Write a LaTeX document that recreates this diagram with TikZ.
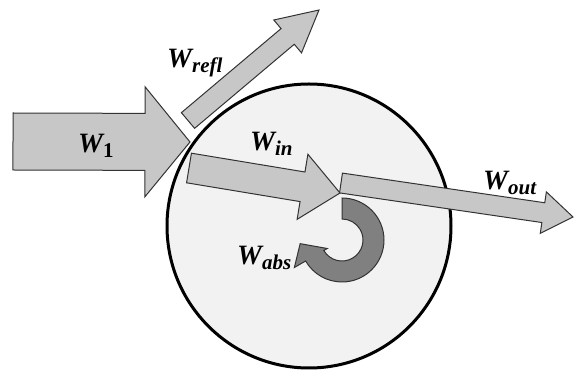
\documentclass[tikz,border=0pt]{standalone}
\usepackage{fontspec}
\setmainfont{Liberation Serif}
\usetikzlibrary{calc}
\colorlet{diskfill}{black!5}
\colorlet{arrowfill}{black!22}
\colorlet{absfill}{black!50}
\tikzstyle{block}=[draw=black!80,line width=1pt,fill=arrowfill,line join=miter]
\tikzstyle{absblock}=[block,fill=absfill]

% straight block arrow: tail, tip, half shaft width, half head width, head length
\newcommand\fatarrow[5]{%
  \coordinate (hb) at ($(#2)!#5pt!(#1)$);
  \filldraw[block] ($(#1)!#3pt!90:(#2)$) -- ($(hb)!#3pt!90:(#2)$)
    -- ($(hb)!#4pt!90:(#2)$) -- (#2) -- ($(hb)!#4pt!-90:(#2)$)
    -- ($(hb)!#3pt!-90:(#2)$) -- ($(#1)!#3pt!-90:(#2)$) -- cycle;
}
\newcommand\lowsub[1]{\raisebox{-5pt}{\fontsize{21}{22}\selectfont #1}}

\begin{document}
\begin{tikzpicture}[x=1pt,y=-1pt,
    lbl/.style={inner sep=0pt,anchor=base west,
      font=\fontsize{28}{30}\selectfont\bfseries\itshape},
  ]
  \useasboundingbox (0,0) rectangle (574,371);

  \def\R{142}   % disk radius
  \def\ri{21}   % inner radius of the absorbed arrow
  \def\ro{42}   % outer radius of the absorbed arrow

  % DISK
  \coordinate (disk) at (309,226);
  \filldraw[fill=diskfill,draw=black,line width=3pt] (disk) circle (\R);

  % ARROWS
  \coordinate (t1) at (13,141.5);   \coordinate (p1) at (190,142);
  \coordinate (tr) at (188,120.5);  \coordinate (pr) at (319,10);
  \coordinate (ti) at (189,168);    \coordinate (pi) at (340,193);
  \coordinate (to) at (341,183);    \coordinate (po) at (573,217);
  \fatarrow{t1}{p1}{28.5}{55}{45}
  \fatarrow{tr}{pr}{10.25}{21.5}{41}
  \fatarrow{ti}{pi}{15}{33}{38}
  \fatarrow{to}{po}{10}{21}{30}

  % ABSORBED
  \coordinate (abs) at (342,240);
  \filldraw[absblock] ($(abs)+(-90:\ri)$) -- ($(abs)+(-90:\ro)$)
    arc[start angle=-90,end angle=150,radius=\ro]
    -- ($(abs)+(150:55)$) -- ($(abs)+(175:42)$) -- ($(abs)+(150:17)$)
    -- ($(abs)+(150:\ri)$) arc[start angle=150,end angle=-90,radius=\ri] -- cycle;

  % LABELS
  \node[lbl] (w1) at (78,153) {W\lowsub{\upshape 1}};
  \node[lbl] (wrefl) at (167,68) {W\lowsub{refl}};
  \node[lbl] (win) at (250,151) {W\lowsub{in}};
  \node[lbl] (wout) at (483,190) {W\lowsub{out}};
  \node[lbl] (wabs) at (237,265) {W\lowsub{abs}};
\end{tikzpicture}
\end{document}
